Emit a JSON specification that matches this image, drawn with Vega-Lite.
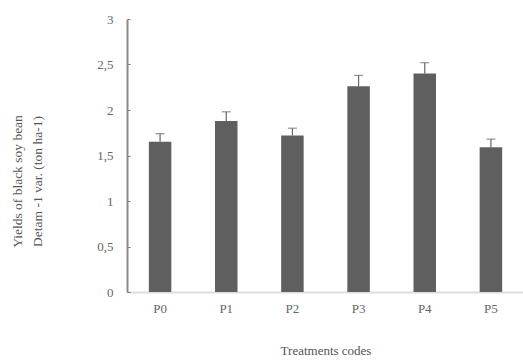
{
  "$schema": "https://vega.github.io/schema/vega-lite/v6.json",
  "autosize": "none",
  "padding": {"left": 127, "top": 19, "right": 0, "bottom": 69},
  "width": 397,
  "height": 273,
  "background": "white",
  "config": {
    "view": {"stroke": null},
    "font": "Liberation Serif",
    "axis": {"labelFont": "Liberation Serif", "titleFont": "Liberation Serif", "labelColor": "#666", "titleColor": "#555", "grid": false, "titleFontWeight": "normal"}
  },
  "data": {
    "values": [
      {"code": "P0", "yield": 1.65, "upper": 1.74},
      {"code": "P1", "yield": 1.88, "upper": 1.98},
      {"code": "P2", "yield": 1.72, "upper": 1.80},
      {"code": "P3", "yield": 2.26, "upper": 2.38},
      {"code": "P4", "yield": 2.40, "upper": 2.52},
      {"code": "P5", "yield": 1.59, "upper": 1.68}
    ]
  },
  "encoding": {
    "x": {
      "field": "code", "type": "nominal", "sort": null,
      "scale": {"paddingInner": 0.66, "paddingOuter": 0.33},
      "axis": {
        "title": "Treatments codes", "titleFontSize": 13, "titlePadding": 29,
        "labelAngle": 0, "labelFontSize": 13, "labelPadding": 10,
        "ticks": false, "domainColor": "#dddddd", "domainWidth": 2
      }
    }
  },
  "layer": [
    {
      "mark": {"type": "bar", "color": "#5f5f5f"},
      "encoding": {
        "y": {
          "field": "yield", "type": "quantitative",
          "scale": {"domain": [0, 3], "nice": false},
          "axis": {
            "title": ["Yields  of black soy bean", "Detam -1  var. (ton ha-1)"],
            "titleFontSize": 13.5, "titleLineHeight": 20,
            "titleAngle": -90, "titleBaseline": "top", "titleAlign": "center",
            "titleX": -117, "titleY": 162,
            "values": [0, 0.5, 1, 1.5, 2, 2.5, 3],
            "labelExpr": "replace(format(datum.value, '~g'), '.', ',')",
            "labelFontSize": 13, "labelPadding": 17,
            "tickSize": -3, "tickColor": "#777", "domainColor": "#8a8a8a", "domainWidth": 2
          }
        }
      }
    },
    {
      "mark": {"type": "rule", "color": "#666", "strokeWidth": 1.2},
      "encoding": {
        "y": {"field": "yield", "type": "quantitative"},
        "y2": {"field": "upper"}
      }
    },
    {
      "mark": {"type": "tick", "color": "#666", "size": 9, "thickness": 1.2},
      "encoding": {
        "y": {"field": "upper", "type": "quantitative"}
      }
    }
  ]
}
